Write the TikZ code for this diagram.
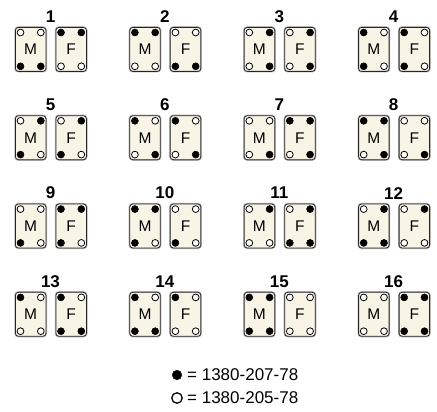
\documentclass[tikz,border=0pt]{standalone}
\usepackage{fontspec}
\setmainfont{Liberation Sans}
\definecolor{cardfill}{RGB}{248,244,230}
\begin{document}
\begin{tikzpicture}[x=1pt,y=-1pt,
  card/.style={draw=black!85, line width=0.8pt, fill=cardfill, rounded corners=3pt,
    minimum width=30.5pt, minimum height=44pt, inner sep=0pt, anchor=north west,
    font=\fontsize{15.5}{15.5}\selectfont,
    preaction={draw=black!30, line width=2.2pt}},
  dot1/.style={circle, fill=black, draw=black, minimum size=7pt, inner sep=0pt, line width=0.5pt},
  dot0/.style={circle, fill=white, draw=black, minimum size=6.8pt, inner sep=0pt, line width=0.8pt},
  num/.style={font=\fontsize{17}{17}\selectfont\bfseries, inner sep=0pt},
  legend/.style={anchor=west, inner sep=0pt, font=\fontsize{17}{17}\selectfont}]
\useasboundingbox (0,0) rectangle (437,412);
\foreach \n/\c/\r/\ma/\mb/\mc/\md/\fa/\fb/\fc/\fd in {
  1/0/0/0/0/1/1/1/1/0/0,
  2/1/0/1/1/0/0/0/0/1/1,
  3/2/0/0/1/0/1/0/1/0/1,
  4/3/0/1/0/1/0/1/0/1/0,
  5/0/1/0/1/1/0/0/1/1/0,
  6/1/1/1/0/0/1/1/0/0/1,
  7/2/1/0/0/0/1/1/1/0/1,
  8/3/1/1/1/0/1/0/0/0/1,
  9/0/2/0/0/1/0/1/1/1/0,
  10/1/2/1/1/1/0/0/0/1/0,
  11/2/2/0/1/0/0/0/1/1/1,
  12/3/2/0/1/1/1/0/1/0/0,
  13/0/3/1/0/0/0/1/0/1/1,
  14/1/3/1/0/1/1/1/0/0/0,
  15/2/3/1/1/1/1/0/0/0/0,
  16/3/3/0/0/0/0/1/1/1/1}{
  \pgfmathsetmacro\xo{15+114.4*\c}
  \pgfmathsetmacro\yo{27+88.3*\r}
  \node[card] (m\n) at (\xo,\yo) {M};
  \node[card] (f\n) at (\xo+40.5,\yo) {F};
  \node[num] (n\n) at (\xo+35.5,\yo-10.5) {\n};
  \node[dot\ma] (m\n a) at ([shift={(5.5,5.5)}]m\n.north west) {};
  \node[dot\mb] (m\n b) at ([shift={(-5.5,5.5)}]m\n.north east) {};
  \node[dot\mc] (m\n c) at ([shift={(5.5,-5.5)}]m\n.south west) {};
  \node[dot\md] (m\n d) at ([shift={(-5.5,-5.5)}]m\n.south east) {};
  \node[dot\fa] (f\n a) at ([shift={(5.5,5.5)}]f\n.north west) {};
  \node[dot\fb] (f\n b) at ([shift={(-5.5,5.5)}]f\n.north east) {};
  \node[dot\fc] (f\n c) at ([shift={(5.5,-5.5)}]f\n.south west) {};
  \node[dot\fd] (f\n d) at ([shift={(-5.5,-5.5)}]f\n.south east) {};
}
\node[dot1, minimum size=9.5pt] (lf) at (177,375) {};
\node[legend] (lt1) at (187,375) {= 1380-207-78};
\node[dot0, minimum size=10.5pt, line width=1.3pt] (lh) at (177,398) {};
\node[legend] (lt2) at (187,398) {= 1380-205-78};
\end{tikzpicture}
\end{document}
